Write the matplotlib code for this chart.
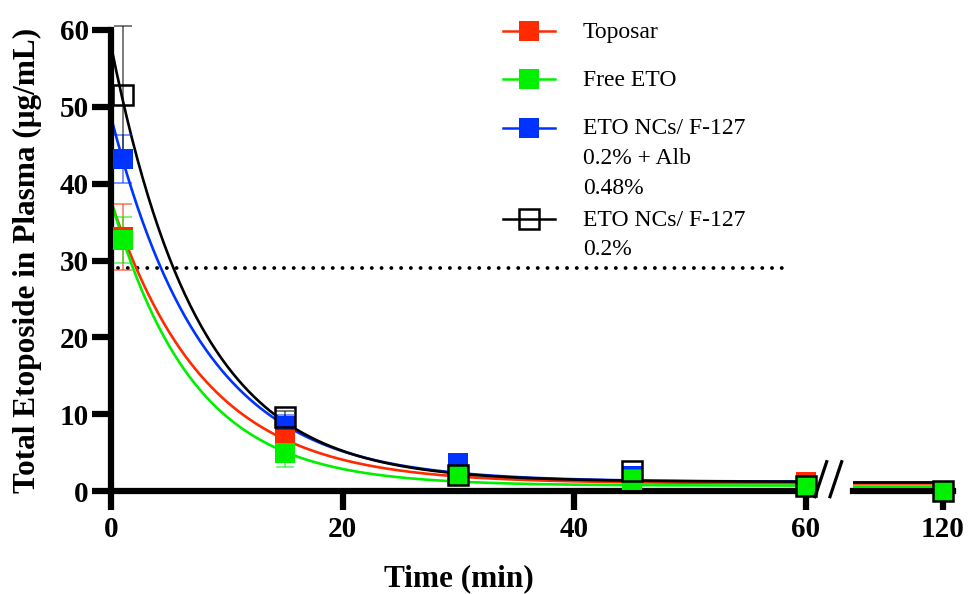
import numpy as np
import matplotlib
matplotlib.use('Agg')
import matplotlib.pyplot as plt
from matplotlib.lines import Line2D

plt.rcParams['font.family'] = ['Liberation Serif', 'DejaVu Serif']

# sampling times (min)
times = np.array([1, 15, 30, 45, 60, 120])

# mean plasma concentration (ug/mL) and error
toposar = [33.0, 6.6, 2.1, 1.6, 1.15, 0.0]
toposar_err = [4.3, 0.8, 0.3, 0.3, 0.3, 0.0]
free_eto = [32.7, 4.9, 1.9, 1.4, 0.6, 0.0]
free_eto_err = [3.0, 1.8, 0.3, 0.3, 0.2, 0.0]
nc_alb = [43.2, 8.4, 3.6, 1.9, 0.9, 0.0]
nc_alb_err = [3.1, 1.5, 0.4, 0.3, 0.2, 0.0]
nc = [51.5, 9.6, 2.1, 2.6, 0.6, 0.0]
nc_err = [9.0, 0.8, 0.4, 0.4, 0.2, 0.0]

# one-phase decay fits: y = plateau + (y0 - plateau) * exp(-k t)
fit_y0 = [37.7, 37.8, 48.7, 58.0]
fit_plateau = [1.0, 0.7, 1.2, 1.2]
fit_k = [0.124, 0.142, 0.124, 0.1324]

labels = ['Toposar', 'Free ETO', 'ETO NCs/ F-127\n0.2% + Alb\n0.48%', 'ETO NCs/ F-127\n0.2%']
colors = ['#ff2a00', '#00f000', '#0033ff', 'black']
means = [toposar, free_eto, nc_alb, nc]
errs = [toposar_err, free_eto_err, nc_alb_err, nc_err]

threshold = 29
yticks = [0, 10, 20, 30, 40, 50, 60]

W, H = 968, 594
fig = plt.figure(figsize=(W / 100, H / 100), dpi=100)
ax1 = fig.add_axes([111 / W, 1 - 491 / H, 704 / W, 461 / H])
ax2 = fig.add_axes([853 / W, 1 - 491 / H, 100 / W, 461 / H])
ax1.set_xlim(0, 60.8)
ax2.set_xlim(112.2, 120.9)

draw_order = [2, 0, 1, 3]
for ax, (lo, hi) in [(ax1, (0, 60.8)), (ax2, (112.2, 120))]:
    tt = np.linspace(lo, hi, 400)
    for i in draw_order:
        yy = fit_plateau[i] + (fit_y0[i] - fit_plateau[i]) * np.exp(-fit_k[i] * tt)
        ax.plot(tt, yy, color=colors[i], lw=1.9, zorder=2)
    mask = (times >= lo) & (times <= hi)
    for i in draw_order:
        m = np.array(means[i])[mask]
        e = np.array(errs[i])[mask]
        ax.errorbar(times[mask], m, yerr=e, fmt='none', ecolor=colors[i], alpha=0.65,
                    elinewidth=1.1, capsize=6.5, capthick=1.1, zorder=3, clip_on=False)
        if i == 3:
            ax.plot(times[mask], m, 's', ms=14, mfc='none', mec='black', mew=1.8,
                    zorder=5, clip_on=False)
        else:
            ax.plot(times[mask], m, 's', ms=14, color=colors[i], mec=colors[i], mew=0,
                    zorder=4, clip_on=False)
    ax.set_ylim(0, 60)
    for s in ['top', 'right']:
        ax.spines[s].set_visible(False)
    ax.spines['bottom'].set_linewidth(4.5)
    ax.spines['left'].set_linewidth(4.5)
    ax.tick_params(width=4.5, length=14, labelsize=21, direction='out')

ax1.plot([0.6, 58.2], [threshold, threshold], color='black', lw=2.8,
         linestyle=(0, (0.01, 2.5)), dash_capstyle='round', zorder=1)

ax1.set_xticks([0, 20, 40, 60])
ax1.set_yticks(yticks)
ax1.tick_params(axis='y', pad=2)
ax1.tick_params(axis='x', pad=4)
for lab in ax1.get_xticklabels() + ax1.get_yticklabels():
    lab.set_fontweight('bold')

ax2.set_xticks([120])
ax2.tick_params(axis='x', pad=4)
for lab in ax2.get_xticklabels():
    lab.set_fontweight('bold')
ax2.spines['left'].set_visible(False)
ax2.set_yticks([])

ax1.set_xlabel('Time (min)', fontsize=22.5, fontweight='bold')
ax1.xaxis.set_label_coords(0.494, -0.158)
ax1.set_ylabel('Total Etoposide in Plasma (\u03bcg/mL)', fontsize=22.5, fontweight='bold')
ax1.yaxis.set_label_coords(-0.098, 0.5)

# axis break marks
for x0 in [815, 830]:
    fig.add_artist(Line2D([x0 / W, (x0 + 11.7) / W], [1 - 496.7 / H, 1 - 461.7 / H],
                          color='black', lw=2.3))

# legend
leg_rows = [31, 79, 127.5, 218.5]
for i, yrow in enumerate(leg_rows):
    yf = 1 - yrow / H
    fig.add_artist(Line2D([503 / W, 555 / W], [yf, yf], color=colors[i], lw=1.8))
    if i == 3:
        fig.add_artist(Line2D([529 / W], [yf], marker='s', ms=14, mfc='none',
                              mec='black', mew=1.8))
    else:
        fig.add_artist(Line2D([529 / W], [yf], marker='s', ms=14, color=colors[i], mew=0))
    fig.text(583 / W, 1 - (yrow - 9) / H, labels[i], fontsize=17, va='top',
             ha='left', linespacing=1.55)

fig.savefig('out.png', dpi=100)
